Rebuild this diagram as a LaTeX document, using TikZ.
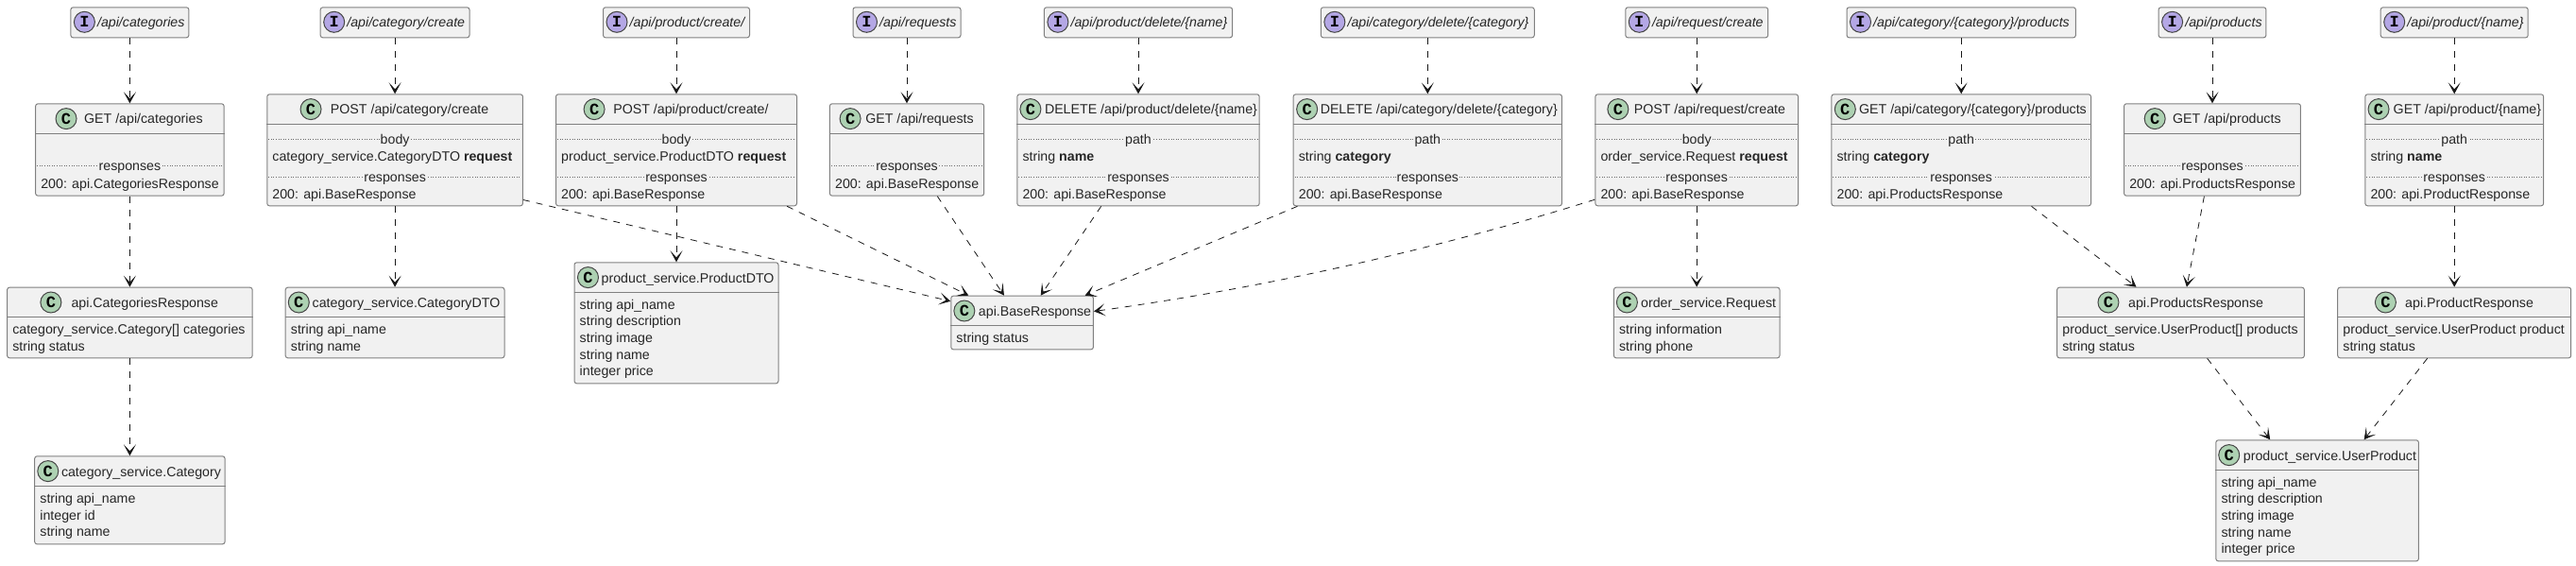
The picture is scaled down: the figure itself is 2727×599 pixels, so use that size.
\documentclass[tikz,border=0pt]{standalone}
\usepackage{fontspec}
\setmainfont{Liberation Sans}
\setmonofont{Liberation Mono}
\usetikzlibrary{arrows.meta}
\definecolor{boxbg}{HTML}{F1F1F1}
\definecolor{boxline}{HTML}{808080}
\definecolor{sepline}{HTML}{6A6A6A}
\definecolor{inkline}{HTML}{181818}
\definecolor{classbadge}{HTML}{ADD1B2}
\definecolor{ifacebadge}{HTML}{B4A7E5}
\tikzset{
plainbox/.style={draw=boxline,fill=boxbg,line width=1pt,rounded corners=2.5pt,anchor=north,inner sep=0pt},
badge/.style={circle,draw=inkline!80,line width=1pt,minimum size=22pt,inner sep=0pt,font=\fontsize{17}{17}\ttfamily\bfseries},
label/.style={anchor=base west,inner sep=0pt,font=\fontsize{14.2}{16}\selectfont,text=black!85},
headrule/.style={draw=boxline,line width=1pt},
seprule/.style={draw=sepline,line width=.8pt,dash pattern=on 1pt off 1.6pt},
seplabel/.style={anchor=base,fill=boxbg,inner xsep=1pt,inner ysep=0pt,text=black!85,font=\fontsize{14.2}{16}\selectfont},
dep/.style={draw=inkline,line width=.8pt,dash pattern=on 7pt off 7pt,-{Stealth[length=12pt,width=13pt,inset=7pt]}},
}
\begin{document}
\begin{tikzpicture}[x=1pt,y=-1pt]
\useasboundingbox (0,0) rectangle (2727,599);
% the interfaces
\foreach \id/\cx/\w/\txt in {
ifcats/137.4/125/{/api/categories},
ifcatnew/418.1/157.8/{/api/category/create},
ifprodnew/716/155/{/api/product/create/},
ifreqs/960/114/{/api/requests},
ifproddel/1205/199.2/{/api/product/delete/\{name\}},
ifcatdel/1511.3/225.9/{/api/category/delete/\{category\}},
ifreqnew/1796.2/150.8/{/api/request/create},
ifcatprods/2076.2/242.4/{/api/category/\{category\}/products},
ifprods/2342/113.8/{/api/products},
ifprod/2598.2/156/{/api/product/\{name\}}}
{
  \node[plainbox,minimum width=\w pt,minimum height=32pt] (\id) at (\cx,7.3) {};
  \node[badge,fill=ifacebadge] (\id-badge) at ([xshift=15pt,yshift=-16pt]\id.north west) {I};
  \node[label,font=\fontsize{14.2}{16}\selectfont\itshape] (\id-title) at ([xshift=28.5pt,yshift=-21.3pt]\id.north west) {\txt};
}
% the classes
\foreach \id/\cx/\ya/\w/\h/\bx/\tx/\txt in {
getcats/137.4/109.3/199.5/97.4/32.9/51.8/{GET /api/categories},
catresp/137.4/303.7/259.6/74.6/46.8/68.2/{api.CategoriesResponse},
category/137.4/482.3/201.4/93/14.6/28.6/{category\_service.Category},
postcat/418.1/99.3/270.7/118/46.8/67.5/{POST /api/category/create},
catdto/418.1/303.7/231.8/74.6/14.6/28.8/{category\_service.CategoryDTO},
postprod/716/99.3/255/118/41.1/61.1/{POST /api/product/create/},
proddto/716/277.3/216/128/15/29/{product\_service.ProductDTO},
getreqs/960/109.3/163.2/97.4/22.2/38.2/{GET /api/requests},
base/1082.1/312.7/150.7/56.6/14.6/29.5/{api.BaseResponse},
delprod/1205/99.3/256.4/118/14.6/29.5/{DELETE /api/product/delete/\{name\}},
delcat/1511.3/99.3/284.3/118/15/28.9/{DELETE /api/category/delete/\{category\}},
postreq/1796.2/99.3/214.7/118/24.5/41.3/{POST /api/request/create},
orderreq/1796.2/303.7/175.6/74.6/14.5/29.1/{order\_service.Request},
getcatprods/2076.2/99.3/274.6/118/14.9/29.5/{GET /api/category/\{category\}/products},
getprods/2342/109.3/186.9/97.4/33.1/51.9/{GET /api/products},
prodsresp/2308.5/303.7/261.7/74.6/54.8/75.8/{api.ProductsResponse},
getprod/2598.2/99.3/188.8/118/14.7/30.2/{GET /api/product/\{name\}},
prodresp/2598.2/303.7/247/74.6/51.2/71.8/{api.ProductResponse},
userprod/2453.1/465.3/214.6/128/14.4/29.4/{product\_service.UserProduct}}
{
  \node[plainbox,minimum width=\w pt,minimum height=\h pt] (\id) at (\cx,\ya) {};
  \node[badge,fill=classbadge] (\id-badge) at ([xshift=\bx pt,yshift=-16.3pt]\id.north west) {C};
  \node[label] (\id-title) at ([xshift=\tx pt,yshift=-21.7pt]\id.north west) {\txt};
  \draw[headrule] ([yshift=-32pt]\id.north west) -- ([yshift=-32pt]\id.north east);
}
% the dotted rules
\foreach \id/\dy/\txt [count=\n] in {
getcats/66/responses,
postcat/48/body, postcat/88/responses,
postprod/48/body, postprod/88/responses,
getreqs/66/responses,
delprod/48/path, delprod/88/responses,
delcat/48/path, delcat/88/responses,
postreq/48/body, postreq/88/responses,
getcatprods/48/path, getcatprods/88/responses,
getprods/66/responses,
getprod/48/path, getprod/88/responses}
{
  \draw[seprule] ([xshift=2pt,yshift=-\dy pt]\id.north west) -- ([xshift=-2pt,yshift=-\dy pt]\id.north east);
  \node[seplabel] (sep\n) at ([yshift=-\dy pt-5pt]\id.north) {\txt};
}
% the rows
\foreach \id/\dy/\txt [count=\n] in {
getcats/89.7/{200: api.CategoriesResponse},
catresp/50/{category\_service.Category[] categories},
catresp/68/{string status},
category/50/{string api\_name},
category/68/{integer id},
category/85.6/{string name},
postcat/71.7/{category\_service.CategoryDTO \textbf{request}},
postcat/110.7/{200: api.BaseResponse},
catdto/50/{string api\_name},
catdto/68/{string name},
postprod/71.7/{product\_service.ProductDTO \textbf{request}},
postprod/110.7/{200: api.BaseResponse},
proddto/50/{string api\_name},
proddto/67.6/{string description},
proddto/85.6/{string image},
proddto/102.8/{string name},
proddto/120.4/{integer price},
getreqs/89.7/{200: api.BaseResponse},
base/50/{string status},
delprod/71.7/{string \textbf{name}},
delprod/110.7/{200: api.BaseResponse},
delcat/71.7/{string \textbf{category}},
delcat/110.7/{200: api.BaseResponse},
postreq/71.7/{order\_service.Request \textbf{request}},
postreq/110.7/{200: api.BaseResponse},
orderreq/50/{string information},
orderreq/68/{string phone},
getcatprods/71.7/{string \textbf{category}},
getcatprods/110.7/{200: api.ProductsResponse},
getprods/89.7/{200: api.ProductsResponse},
prodsresp/50/{product\_service.UserProduct[] products},
prodsresp/68/{string status},
getprod/71.7/{string \textbf{name}},
getprod/110.7/{200: api.ProductResponse},
prodresp/50/{product\_service.UserProduct product},
prodresp/68/{string status},
userprod/50/{string api\_name},
userprod/67.6/{string description},
userprod/85.6/{string image},
userprod/102.8/{string name},
userprod/120.4/{integer price}}
{
  \node[label] (row\n) at ([xshift=6pt,yshift=-\dy pt]\id.north west) {\txt};
}
% the straight arrows
\foreach \from/\to in {
ifcats/getcats, getcats/catresp, catresp/category,
ifcatnew/postcat, postcat/catdto,
ifprodnew/postprod, postprod/proddto,
ifreqs/getreqs, ifproddel/delprod, ifcatdel/delcat,
ifreqnew/postreq, postreq/orderreq,
ifcatprods/getcatprods, ifprods/getprods,
ifprod/getprod, getprod/prodresp}
{
  \draw[dep] (\from.south) -- (\to.north);
}
% the slanted arrows
\draw[dep] ([yshift=-52.7pt]postcat.east) -- ([yshift=22.7pt]base.west);
\draw[dep] ([xshift=117.2pt]postprod.south) -- ([xshift=-56.8pt]base.north);
\draw[dep] ([xshift=32.3pt]getreqs.south) -- ([xshift=-19.2pt]base.north);
\draw[dep] ([xshift=-39.3pt]delprod.south) -- ([xshift=19.6pt]base.north);
\draw[dep] ([xshift=-137.8pt]delcat.south) -- ([xshift=66.5pt]base.north);
\draw[dep] ([yshift=-52.4pt]postreq.west) .. controls (1539,258) and (1358,302) .. ([yshift=12pt]base.east);
\draw[dep] ([xshift=74.3pt]getcatprods.south) -- ([xshift=-47pt]prodsresp.north);
\draw[dep] ([xshift=-8.6pt]getprods.south) -- ([xshift=6.4pt]prodsresp.north);
\draw[dep] ([xshift=28.1pt]prodsresp.south) -- ([xshift=-49.9pt]userprod.north);
\draw[dep] ([xshift=-28.6pt]prodresp.south) -- ([xshift=49.5pt]userprod.north);
\end{tikzpicture}
\end{document}
